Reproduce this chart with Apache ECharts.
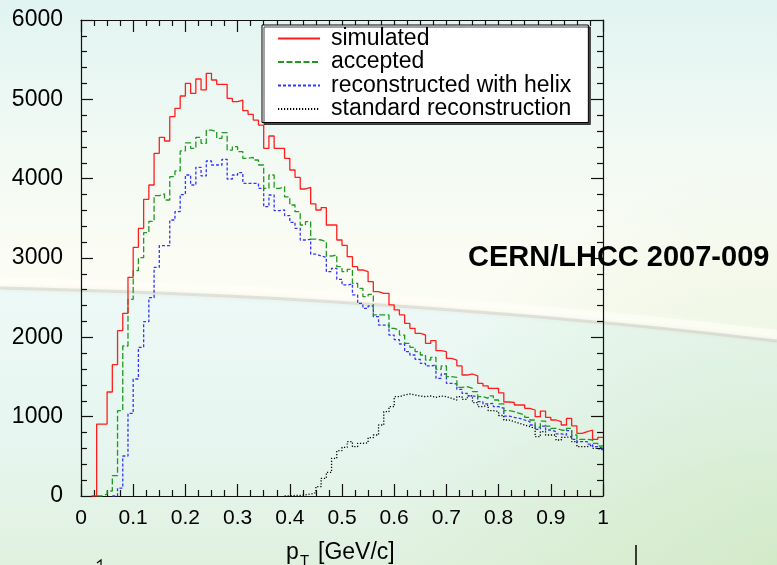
<!DOCTYPE html>
<html>
<head>
<meta charset="utf-8">
<script src="https://cdn.jsdelivr.net/npm/echarts@6/dist/echarts.min.js"></script>
<style>
html,body{margin:0;padding:0;background:#fff;}
#chart{width:777px;height:565px;}
</style>
</head>
<body>
<div id="chart"></div>
<script>
// ---- data: 100 bins of width 0.01 in pT [GeV/c], bin index = position in array ----
const binWidth = 0.01;
const seriesNames = ['simulated', 'accepted', 'reconstructed with helix', 'standard reconstruction'];
const xTicks = [0, 0.1, 0.2, 0.3, 0.4, 0.5, 0.6, 0.7, 0.8, 0.9, 1];
const yTicks = [0, 1000, 2000, 3000, 4000, 5000, 6000];

const simulated = [
  0, 0, 0, 907, 907, 1311, 1655, 2084, 2303, 2757,
  3135, 3374, 3740, 3920, 4320, 4521, 4475, 4781, 4887, 5042,
  5202, 5076, 5256, 5118, 5328, 5244, 5189, 5189, 5012, 4970,
  4991, 4857, 4811, 4739, 4676, 4382, 4538, 4382, 4382, 4256,
  4109, 4017, 3870, 3891, 3681, 3605, 3635, 3416, 3416, 3227,
  3160, 3017, 2891, 2849, 2828, 2702, 2576, 2555, 2555, 2408,
  2345, 2282, 2177, 2114, 2051, 2030, 1925, 1958, 1832, 1819,
  1735, 1714, 1639, 1525, 1538, 1513, 1420, 1387, 1357, 1357,
  1300, 1185, 1180, 1147, 1147, 1105, 1084, 1000, 1071, 992,
  958, 937, 895, 979, 883, 790, 811, 832, 714, 740
];
const accepted = [
  0, 0, 0, 0, 25, 63, 256, 1076, 1891, 2479,
  2840, 3004, 3319, 3462, 3786, 3807, 3731, 4025, 4097, 4350,
  4450, 4382, 4521, 4445, 4613, 4592, 4508, 4580, 4361, 4403,
  4340, 4256, 4269, 4235, 4172, 3878, 4046, 3878, 3899, 3770,
  3668, 3584, 3416, 3458, 3239, 3227, 3206, 3025, 3038, 2891,
  2828, 2857, 2681, 2618, 2513, 2542, 2282, 2282, 2282, 2113,
  2092, 2029, 1925, 1874, 1819, 1777, 1714, 1748, 1597, 1639,
  1504, 1496, 1370, 1378, 1357, 1315, 1252, 1231, 1261, 1210,
  1160, 1076, 1063, 1042, 1021, 992, 958, 866, 945, 882,
  853, 832, 824, 853, 769, 714, 714, 706, 664, 630
];
const helix = [
  0, 0, 0, 0, 0, 0, 0, 100, 504, 1042,
  1475, 1874, 2197, 2500, 2882, 3155, 3155, 3479, 3584, 3800,
  4046, 3920, 4143, 4034, 4223, 4172, 4172, 4244, 3996, 4046,
  4076, 3941, 3941, 3941, 3878, 3647, 3794, 3597, 3605, 3535,
  3450, 3374, 3227, 3235, 3050, 3025, 3008, 2828, 2870, 2731,
  2660, 2672, 2534, 2429, 2366, 2395, 2261, 2155, 2155, 2029,
  1970, 1916, 1819, 1777, 1723, 1672, 1639, 1651, 1483, 1538,
  1420, 1412, 1345, 1294, 1261, 1252, 1189, 1160, 1168, 1126,
  1105, 1008, 992, 979, 958, 937, 895, 840, 882, 832,
  811, 782, 769, 824, 714, 685, 685, 655, 622, 601
];
const standard = [
  0, 0, 0, 0, 0, 0, 0, 0, 0, 0,
  0, 0, 0, 0, 0, 0, 0, 0, 0, 0,
  0, 0, 0, 0, 0, 0, 0, 0, 0, 0,
  0, 0, 0, 0, 0, 0, 0, 0, 0, 0,
  8, 8, 15, 25, 42, 118, 223, 298, 475, 571,
  613, 685, 622, 664, 670, 735, 769, 895, 1063, 1126,
  1252, 1273, 1286, 1273, 1261, 1252, 1261, 1244, 1261, 1252,
  1231, 1210, 1252, 1219, 1261, 1177, 1126, 1147, 1076, 1063,
  1015, 958, 937, 916, 895, 874, 853, 748, 811, 769,
  769, 706, 740, 748, 685, 622, 622, 643, 601, 580
];

// histogram -> step-line points at bin low edges (leading empty bins skipped)
function hist(values) {
  const first = values.findIndex(v => v > 0);
  const start = Math.max(first - 1, 0);
  const d = [];
  for (let i = start; i < values.length; i++) d.push([+(i * binWidth).toFixed(2), values[i]]);
  d.push([+(values.length * binWidth).toFixed(2), values[values.length - 1]]);
  return d;
}

// decorative slide background swoosh (not data)
function swoosh(dy) {
  const pts = [];
  for (let t = 0; t <= 1.0001; t += 0.05) {
    const x = 2 * (1 - t) * t * 400 + t * t * 777;
    const y = (1 - t) * (1 - t) * (289 + dy) + 2 * (1 - t) * t * (298 + dy) + t * t * (342 + dy);
    pts.push([x, y]);
  }
  return pts;
}

const FONT = '"Liberation Sans", Arial, Helvetica, sans-serif';
const chart = echarts.init(document.getElementById('chart'), null, {renderer: 'canvas'});

const axisLine = {show: true, onZero: false, lineStyle: {color: '#111', width: 1.2}};
function xAxisDef(pos, showLabel) {
  return {
    type: 'value', position: pos, min: xTicks[0], max: xTicks[xTicks.length - 1], interval: 0.1,
    axisLine: axisLine,
    axisTick: {show: true, inside: true, length: 12, lineStyle: {color: '#111', width: 1.2}},
    minorTick: {show: true, splitNumber: 4, length: 6, lineStyle: {color: '#111', width: 1.2}},
    splitLine: {show: false}, minorSplitLine: {show: false},
    axisLabel: {show: showLabel, fontSize: 21, color: '#000', fontFamily: FONT, margin: 12,
      formatter: v => String(+v.toFixed(1))}
  };
}
function yAxisDef(pos, showLabel) {
  return {
    type: 'value', position: pos, min: yTicks[0], max: yTicks[yTicks.length - 1], interval: 1000,
    axisLine: axisLine,
    axisTick: {show: true, inside: true, length: 12, lineStyle: {color: '#111', width: 1.2}},
    minorTick: {show: true, splitNumber: 5, length: 6, lineStyle: {color: '#111', width: 1.2}},
    splitLine: {show: false}, minorSplitLine: {show: false},
    axisLabel: {show: showLabel, fontSize: 23, color: '#000', fontFamily: FONT, margin: 18,
      formatter: v => String(Math.round(v))}
  };
}

const styles = [
  {color: '#ff1e1e', type: 'solid'},
  {color: '#1f9a1f', type: [6, 2.5]},
  {color: '#3434ff', type: [3, 2]},
  {color: '#000000', type: [1.2, 1.8]}
];
const datasets = [simulated, accepted, helix, standard];

const lower = swoosh(0).concat([[777, 565], [0, 565]]);

const option = {
  animation: false,
  backgroundColor: new echarts.graphic.LinearGradient(0, 0, 0, 1, [
    {offset: 0, color: '#e1f4f1'},
    {offset: 0.22, color: '#eff9f4'},
    {offset: 0.45, color: '#fbfcf3'},
    {offset: 1, color: '#fbfcf3'}
  ]),
  graphic: [
    {type: 'polygon', z: -20, silent: true,
      shape: {points: lower},
      style: {fill: new echarts.graphic.LinearGradient(0, 0, 0, 1, [
        {offset: 0, color: '#edf9f6'}, {offset: 0.5, color: '#e7f6f1'}, {offset: 1, color: '#e1f1df'}])}},
    {type: 'rect', z: -19, silent: true, shape: {x: 0, y: 0, width: 777, height: 565},
      style: {fill: new echarts.graphic.RadialGradient(1, 1, 0.7, [
        {offset: 0, color: 'rgba(200,228,182,0.55)'}, {offset: 1, color: 'rgba(200,228,182,0)'}])}},
    {type: 'polyline', z: -18, silent: true,
      shape: {points: swoosh(-7)},
      style: {fill: null, stroke: 'rgba(255,255,248,0.6)', lineWidth: 10, shadowBlur: 8, shadowColor: 'rgba(255,255,245,0.7)'}},
    {type: 'polyline', z: -17, silent: true,
      shape: {points: swoosh(-1)},
      style: {fill: null, stroke: 'rgba(175,176,165,0.3)', lineWidth: 3, shadowBlur: 4, shadowColor: 'rgba(160,160,150,0.4)'}},
    {type: 'text', z: 50, left: 468, top: 243,
      style: {text: 'CERN/LHCC 2007-009', fill: '#000', font: 'bold 29px ' + FONT}},
    {type: 'text', z: 50, left: 286, top: 541,
      style: {text: 'p', fill: '#000', font: '23px ' + FONT}},
    {type: 'text', z: 50, left: 300, top: 553,
      style: {text: 'T', fill: '#000', font: '15px ' + FONT}},
    {type: 'text', z: 50, left: 318, top: 541,
      style: {text: '[GeV/c]', fill: '#000', font: '23px ' + FONT}},
    {type: 'line', z: 50, shape: {x1: 636, y1: 545, x2: 636, y2: 565}, style: {stroke: '#000', lineWidth: 1.5}},
    {type: 'polyline', z: 50, shape: {points: [[97, 563], [101, 560], [101, 565]]}, style: {stroke: '#000', lineWidth: 1.2, fill: null}}
  ],
  grid: {left: 81, right: 174, top: 20, bottom: 69, containLabel: false},
  xAxis: [xAxisDef('bottom', true), xAxisDef('top', false)],
  yAxis: [yAxisDef('left', true), yAxisDef('right', false)],
  legend: {
    orient: 'vertical', left: 262, top: 25,
    itemWidth: 42, itemHeight: 14, itemGap: 0.5,
    padding: [2, 17, 2, 15],
    backgroundColor: '#fff', borderColor: '#000', borderWidth: 1,
    shadowColor: 'rgba(40,40,40,0.85)', shadowOffsetX: 2, shadowOffsetY: 2, shadowBlur: 0,
    selectedMode: false,
    itemStyle: {color: 'rgba(0,0,0,0)', borderWidth: 0, opacity: 0},
    textStyle: {fontSize: 23, lineHeight: 23, color: '#000', fontFamily: FONT, padding: [0, 0, 0, 6]},
    data: seriesNames
  },
  series: datasets.map((vals, k) => ({
    name: seriesNames[k], type: 'line', step: 'end', xAxisIndex: 0, yAxisIndex: 0,
    data: hist(vals), symbol: 'none', showSymbol: false, z: 5 - k,
    lineStyle: {color: styles[k].color, width: 1.3, type: styles[k].type},
    itemStyle: {color: styles[k].color}
  }))
};
chart.setOption(option);
</script>
</body>
</html>
